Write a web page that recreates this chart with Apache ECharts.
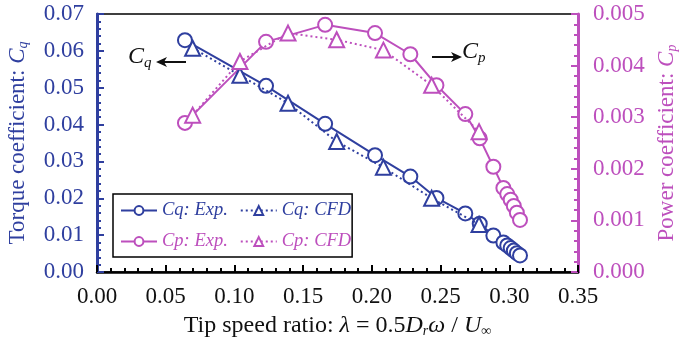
<!DOCTYPE html>
<html>
<head>
<meta charset="utf-8">
<script src="https://cdn.jsdelivr.net/npm/echarts@6/dist/echarts.min.js"></script>
<style>
  html, body { margin: 0; padding: 0; background: #fff; }
  #chart { width: 679px; height: 346px; }
</style>
</head>
<body>
<div id="chart"></div>
<script>
// tip speed ratio of the measured points
const lambdaExp = [0.064, 0.123, 0.166, 0.2023, 0.228, 0.247, 0.268, 0.2785, 0.2884,
                   0.2957, 0.2985, 0.301, 0.3033, 0.3055, 0.3078];
const cqExp = [0.0629, 0.0505, 0.0402, 0.0317, 0.0259, 0.0201, 0.0159, 0.0131, 0.0099,
               0.0080, 0.0072, 0.0065, 0.0058, 0.0051, 0.0045];
const cpExp = [0.00289, 0.00446, 0.00479, 0.00463, 0.00422, 0.00362, 0.00306, 0.00259, 0.00204,
               0.00163, 0.00151, 0.00140, 0.00128, 0.00115, 0.00101];

// CFD points
const lambdaCfd = [0.0696, 0.104, 0.139, 0.1744, 0.2084, 0.2435, 0.278];
const cqCfd = [0.0607, 0.0534, 0.0458, 0.0354, 0.0284, 0.0200, 0.0129];
const cpCfd = [0.00304, 0.00408, 0.00463, 0.0045, 0.0043, 0.00362, 0.00272];

const BLUE = '#2f3f9f';
const MAGENTA = '#bd4fbd';
const FONT = '"Liberation Serif", "DejaVu Serif", serif';

const zip = (xs, ys) => xs.map((x, i) => [x, ys[i]]);

const chart = echarts.init(document.getElementById('chart'));

function lineSeries(name, data, color, dotted, symbol, axis) {
  return {
    name: name,
    type: 'line',
    yAxisIndex: axis,
    data: data,
    symbol: symbol,
    symbolSize: symbol === 'circle' ? 14 : 15,
    showAllSymbol: true,
    z: dotted ? 3 : 2,
    lineStyle: { color: color, width: 2, type: dotted ? [2, 3] : 'solid' },
    itemStyle: { color: '#fff', borderColor: color, borderWidth: 2, opacity: 1 },
    emphasis: { disabled: true },
    animation: false
  };
}

const tickBase = (color) => ({
  axisLine: { show: true, lineStyle: { color: color, width: 3 } },
  axisTick: { show: true, inside: true, length: 7, lineStyle: { color: color, width: 2 } },
  minorTick: { show: true, splitNumber: 5, length: 4, lineStyle: { color: color, width: 2 } },
  splitLine: { show: false }
});

// axis name with italic symbols and subscripts
const nameStyle = (color, size) => ({
  color: color, fontFamily: FONT, fontSize: size,
  rich: {
    i: { fontStyle: 'italic', fontFamily: FONT, fontSize: size, color: color },
    sub: { fontStyle: 'italic', fontFamily: FONT, fontSize: Math.round(size * 0.6), color: color, verticalAlign: 'bottom', padding: [10, 0, 0, 0] }
  }
});

const annoText = (text, left, top) => ({
  type: 'text', left: left, top: top, z: 10,
  style: {
    text: text, fill: '#111',
    rich: {
      i: { fontFamily: FONT, fontStyle: 'italic', fontSize: 24, fill: '#111' },
      sub: { fontFamily: FONT, fontStyle: 'italic', fontSize: 15, fill: '#111', padding: [12, 0, 0, 0] }
    }
  }
});

const option = {
  backgroundColor: '#fff',
  textStyle: { fontFamily: FONT },
  grid: {
    left: 97, right: 101, top: 14, bottom: 74,
    containLabel: false,
    outerBoundsMode: 'none',
    show: true, borderColor: '#000', borderWidth: 1.5
  },
  legend: {
    left: 113, top: 194,
    width: 250,
    orient: 'horizontal',
    itemGap: 12,
    itemWidth: 36, itemHeight: 11,
    padding: [7, 1, 6, 7],
    borderColor: '#000', borderWidth: 1.5,
    backgroundColor: '#fff',
    textStyle: { fontFamily: FONT, fontSize: 18.5, fontStyle: 'italic' },
    data: [
      { name: 'Cq: Exp.', textStyle: { color: BLUE } },
      { name: 'Cq: CFD', textStyle: { color: BLUE } },
      { name: 'Cp: Exp.', textStyle: { color: MAGENTA } },
      { name: 'Cp: CFD', textStyle: { color: MAGENTA } }
    ]
  },
  xAxis: {
    type: 'value',
    min: 0, max: 0.35, interval: 0.05,
    ...tickBase('#000'),
    axisLine: { show: true, lineStyle: { color: '#000', width: 2.5 } },
    axisLabel: {
      color: '#111', fontFamily: FONT, fontSize: 23, margin: 13,
      formatter: v => v.toFixed(2)
    },
    name: 'Tip speed ratio: {i|λ} = 0.5{i|D}{sub|r}{i|ω} / {i|U}{sub|∞}',
    nameLocation: 'middle',
    nameGap: 42,
    nameTextStyle: nameStyle('#111', 24)
  },
  yAxis: [
    {
      type: 'value',
      min: 0, max: 0.07, interval: 0.01,
      ...tickBase(BLUE),
      axisLabel: {
        color: BLUE, fontFamily: FONT, fontSize: 23, margin: 13,
        formatter: v => v.toFixed(2)
      },
      name: 'Torque coefficient: {i|C}{sub|q}',
      nameLocation: 'middle',
      nameGap: 67,
      nameTextStyle: nameStyle(BLUE, 23)
    },
    {
      type: 'value',
      min: 0, max: 0.005, interval: 0.001,
      position: 'right',
      ...tickBase(MAGENTA),
      axisLabel: {
        color: MAGENTA, fontFamily: FONT, fontSize: 23, margin: 15,
        formatter: v => v.toFixed(3)
      },
      name: 'Power coefficient: {i|C}{sub|p}',
      nameLocation: 'middle',
      nameGap: 74,
      nameTextStyle: nameStyle(MAGENTA, 23)
    }
  ],
  series: [
    lineSeries('Cq: Exp.', zip(lambdaExp, cqExp), BLUE, false, 'circle', 0),
    lineSeries('Cq: CFD', zip(lambdaCfd, cqCfd), BLUE, true, 'triangle', 0),
    lineSeries('Cp: Exp.', zip(lambdaExp, cpExp), MAGENTA, false, 'circle', 1),
    lineSeries('Cp: CFD', zip(lambdaCfd, cpCfd), MAGENTA, true, 'triangle', 1)
  ],
  graphic: [
    // C_q label with arrow pointing left
    annoText('{i|C}{sub|q}', 128, 45),
    { type: 'line', z: 10, shape: { x1: 164, y1: 62, x2: 186, y2: 62 }, style: { stroke: '#111', lineWidth: 2 } },
    { type: 'polygon', z: 10, shape: { points: [[156, 62], [167, 57], [164, 62], [167, 67]] }, style: { fill: '#111' } },
    // C_p label with arrow pointing right
    { type: 'line', z: 10, shape: { x1: 432, y1: 57, x2: 454, y2: 57 }, style: { stroke: '#111', lineWidth: 2 } },
    { type: 'polygon', z: 10, shape: { points: [[462, 57], [451, 52], [454, 57], [451, 62]] }, style: { fill: '#111' } },
    annoText('{i|C}{sub|p}', 462, 40)
  ]
};

chart.setOption(option);
</script>
</body>
</html>
